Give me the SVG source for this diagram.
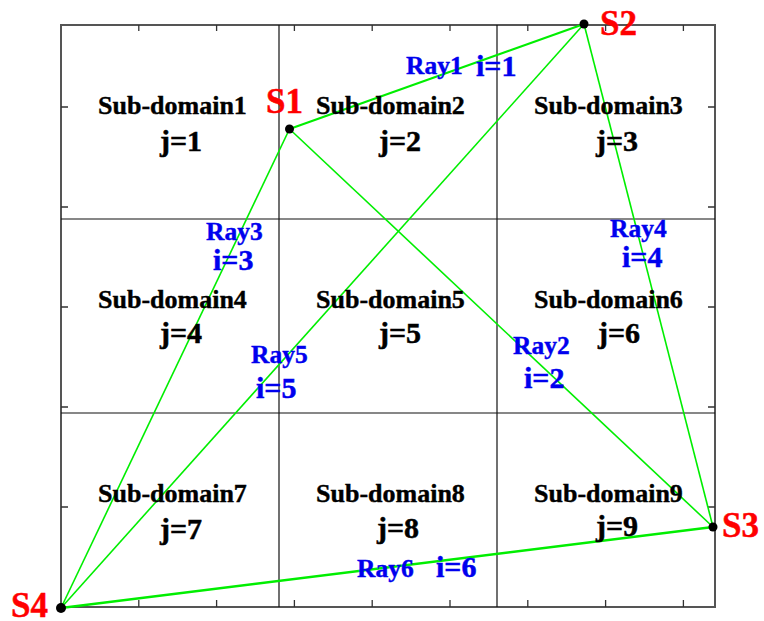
<svg xmlns="http://www.w3.org/2000/svg" width="764" height="621" viewBox="0 0 764 621">
<style>
.frame{fill:none;stroke:#555;stroke-width:2}
.grid{stroke:#111;stroke-width:1.2}
.tick{stroke:#333;stroke-width:1.3}
.ray{stroke:#00ee00;stroke-width:1.6;fill:none}
.ray.thick{stroke-width:2.3}
.sd{font-family:"Liberation Serif",serif;font-weight:bold;font-size:26px;fill:#000;stroke:#000;stroke-width:0.4}
.j{font-family:"Liberation Serif",serif;font-weight:bold;font-size:30px;fill:#000;stroke:#000;stroke-width:0.5}
.rl{font-family:"Liberation Serif",serif;font-weight:bold;font-size:25.5px;fill:#0000ee;stroke:#0000ee;stroke-width:0.4}
.il{font-family:"Liberation Serif",serif;font-weight:bold;font-size:30px;fill:#0000ee;stroke:#0000ee;stroke-width:0.5}
.src{font-family:"Liberation Serif",serif;font-weight:bold;font-size:35px;fill:#ff0000;stroke:#ff0000;stroke-width:0.5}
.dot{fill:#000}
</style>
<rect width="764" height="621" fill="#fff"/>
<g id="grid">
<rect class="frame" x="61" y="25" width="654" height="582"/>
<line class="grid" x1="279" y1="25" x2="279" y2="607"/>
<line class="grid" x1="497" y1="25" x2="497" y2="607"/>
<line class="grid" x1="61" y1="219" x2="715" y2="219"/>
<line class="grid" x1="61" y1="413" x2="715" y2="413"/>
<path class="tick" d="M138.8 25v6M216.6 25v6M294.4 25v6M372.2 25v6M450 25v6M527.8 25v6M605.6 25v6M683.4 25v6
M138.8 607v-7M216.6 607v-7M294.4 607v-7M372.2 607v-7M450 607v-7M527.8 607v-7M605.6 607v-7M683.4 607v-7
M61 507h7M61 407h7M61 307h7M61 207h7M61 107h7
M715 507h-7M715 407h-7M715 307h-7M715 207h-7M715 107h-7"/>
</g>
<g id="connectors">
<line id="ray1" class="ray thick" x1="289.5" y1="129" x2="584" y2="24"/>
<line id="ray2" class="ray" x1="289.5" y1="129" x2="713" y2="527"/>
<line id="ray3" class="ray" x1="61" y1="608" x2="289.5" y2="129"/>
<line id="ray4" class="ray" x1="584" y1="24" x2="713" y2="527"/>
<line id="ray5" class="ray" x1="61" y1="608" x2="584" y2="24"/>
<line id="ray6" class="ray thick" x1="61" y1="608" x2="713" y2="527"/>
</g>
<g id="subdomain1"><text class="sd" x="98" y="114">Sub-domain1</text><text class="j" x="160" y="151">j=1</text></g>
<g id="subdomain2"><text class="sd" x="316" y="114">Sub-domain2</text><text class="j" x="379" y="151">j=2</text></g>
<g id="subdomain3"><text class="sd" x="534" y="114">Sub-domain3</text><text class="j" x="596" y="151">j=3</text></g>
<g id="subdomain4"><text class="sd" x="98" y="308">Sub-domain4</text><text class="j" x="160" y="343">j=4</text></g>
<g id="subdomain5"><text class="sd" x="316" y="308">Sub-domain5</text><text class="j" x="379" y="343">j=5</text></g>
<g id="subdomain6"><text class="sd" x="534" y="308">Sub-domain6</text><text class="j" x="598" y="343">j=6</text></g>
<g id="subdomain7"><text class="sd" x="98" y="502">Sub-domain7</text><text class="j" x="160" y="539">j=7</text></g>
<g id="subdomain8"><text class="sd" x="316" y="502">Sub-domain8</text><text class="j" x="377" y="538">j=8</text></g>
<g id="subdomain9"><text class="sd" x="534" y="502">Sub-domain9</text><text class="j" x="596" y="536">j=9</text></g>
<g id="ray-labels">
<text class="rl" x="406" y="74">Ray1</text><text class="il" x="476" y="76">i=1</text>
<text class="rl" x="513" y="354">Ray2</text><text class="il" x="524" y="388">i=2</text>
<text class="rl" x="206" y="240">Ray3</text><text class="il" x="213" y="270">i=3</text>
<text class="rl" x="610" y="237">Ray4</text><text class="il" x="622" y="267">i=4</text>
<text class="rl" x="251" y="363">Ray5</text><text class="il" x="256" y="398">i=5</text>
<text class="rl" x="357" y="577">Ray6</text><text class="il" x="436" y="577">i=6</text>
</g>
<g id="S1"><circle class="dot" cx="289.5" cy="129" r="4.5"/><text class="src" x="266" y="113">S1</text></g>
<g id="S2"><circle class="dot" cx="584" cy="24" r="4.5"/><text class="src" x="600" y="35">S2</text></g>
<g id="S3"><circle class="dot" cx="713" cy="527" r="4.5"/><text class="src" x="722" y="537">S3</text></g>
<g id="S4"><circle class="dot" cx="61" cy="608" r="5"/><text class="src" x="11" y="617">S4</text></g>
</svg>
